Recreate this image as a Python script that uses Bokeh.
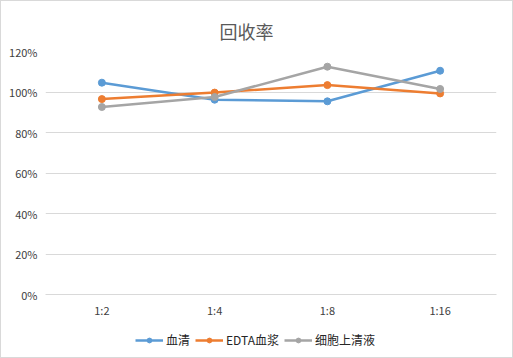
from bokeh.plotting import figure
from bokeh.models import Range1d, NumeralTickFormatter, Legend, LegendItem, FixedTicker
from bokeh.layouts import column
from bokeh.embed import file_html
from bokeh.resources import INLINE

categories = ["1:2", "1:4", "1:8", "1:16"]
serum = [1.046, 0.962, 0.954, 1.105]
edta_plasma = [0.965, 0.997, 1.034, 0.993]
cell_sup = [0.926, 0.975, 1.125, 1.015]
series_names = ["血清", "EDTA血浆", "细胞上清液"]
colors = ["#5B9BD5", "#ED7D31", "#A5A5A5"]
y_ticks = [0, 0.2, 0.4, 0.6, 0.8, 1.0, 1.2]

p = figure(width=511, height=325, x_range=categories, y_range=Range1d(0, 1.2),
           output_backend="svg", toolbar_location=None,
           min_border_left=44, min_border_right=16, min_border_top=50, min_border_bottom=32)

p.title.text = "回收率"
p.title.align = "left"
p.title.offset = 174
p.title.text_font = "Noto Sans CJK SC"
p.title.text_font_size = "18px"
p.title.text_font_style = "normal"
p.title.text_color = "#595959"
p.title.standoff = 15

p.outline_line_color = None
p.background_fill_color = "white"
p.border_fill_color = "white"

p.xgrid.grid_line_color = None
p.ygrid.grid_line_color = "#D9D9D9"
p.ygrid.grid_line_width = 1

p.yaxis.ticker = FixedTicker(ticks=y_ticks)
p.yaxis.formatter = NumeralTickFormatter(format="0%")
p.yaxis.axis_line_color = None
p.yaxis.major_tick_line_color = None
p.yaxis.minor_tick_line_color = None
p.yaxis.major_tick_out = 0
p.yaxis.minor_tick_out = 0
p.yaxis.major_label_text_font = "Noto Sans CJK SC"
p.yaxis.major_label_text_font_size = "11px"
p.yaxis.major_label_text_color = "#404040"
p.yaxis.major_label_standoff = 8

p.xaxis.axis_line_color = "#D9D9D9"
p.xaxis.major_tick_line_color = None
p.xaxis.minor_tick_line_color = None
p.xaxis.major_tick_out = 0
p.xaxis.minor_tick_out = 0
p.xaxis.major_label_text_font = "Noto Sans CJK SC"
p.xaxis.major_label_text_font_size = "11px"
p.xaxis.major_label_text_color = "#404040"
p.xaxis.major_label_standoff = 7

for name, vals, c in zip(series_names, [serum, edta_plasma, cell_sup], colors):
    p.line(categories, vals, line_color=c, line_width=2.5)
    p.scatter(categories, vals, size=7, fill_color=c, line_color=c)

# legend strip (legend-only renderers carry no visible points)
nan = float("nan")
lf = figure(width=511, height=31, x_range=(0, 1), y_range=(0, 1),
            output_backend="svg", toolbar_location=None,
            min_border_left=0, min_border_right=0, min_border_top=0, min_border_bottom=0)
lf.axis.visible = False
lf.grid.grid_line_color = None
lf.outline_line_color = None
items = []
for name, c in zip(series_names, colors):
    l = lf.line([nan], [nan], line_color=c, line_width=2.5)
    s = lf.scatter([nan], [nan], size=7, fill_color=c, line_color=c)
    items.append(LegendItem(label=name, renderers=[l, s]))
legend = Legend(items=items, orientation="horizontal", location=(90, 9),
                label_text_font="Noto Sans CJK SC", label_text_font_size="12px",
                label_text_color="#262626", glyph_width=28, glyph_height=12,
                label_standoff=3, spacing=5, padding=2, margin=0,
                border_line_color=None, background_fill_alpha=0)
lf.add_layout(legend, "center")

layout = column(p, lf, spacing=0, styles={"border": "1px solid #D9D9D9"})
open("out.html", "w").write(file_html(layout, INLINE))
